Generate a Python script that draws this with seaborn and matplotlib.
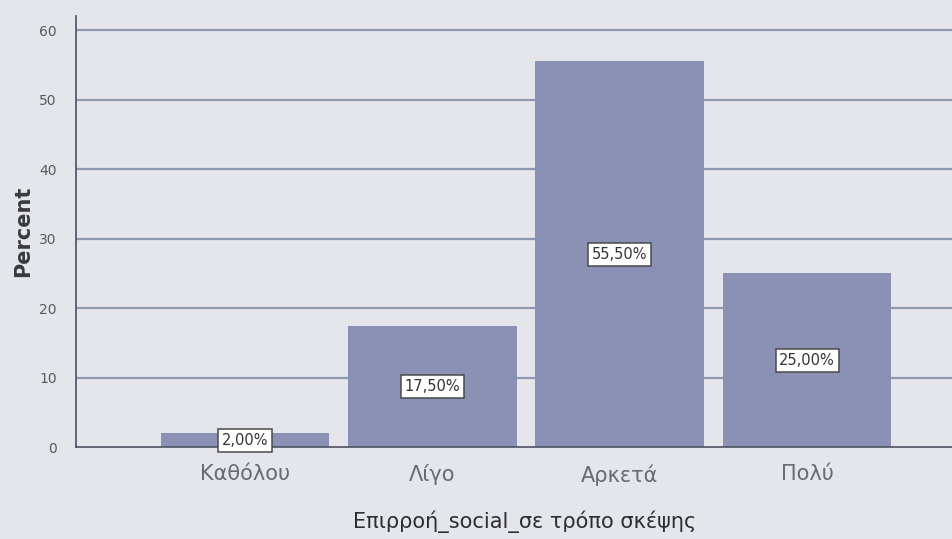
import matplotlib
matplotlib.use("Agg")
import matplotlib.pyplot as plt
import seaborn as sns
import pandas as pd

categories = ["Καθόλου", "Λίγο", "Αρκετά", "Πολύ"]
percent = [2.0, 17.5, 55.5, 25.0]
value_labels = ["2,00%", "17,50%", "55,50%", "25,00%"]
y_ticks = [0, 10, 20, 30, 40, 50, 60]

df = pd.DataFrame({"category": categories, "percent": percent})

sns.set_theme(style="white")
plt.rcParams["font.family"] = ["DejaVu Sans"]

bg = "#e4e6eb"
bar_color = "#8a91b5"
grid_color = "#8f98b3"

fig = plt.figure(figsize=(9.53, 5.39), dpi=100, facecolor=bg)
ax = fig.add_axes([0.08, 0.17, 0.94, 0.80])
ax.set_facecolor(bg)

for t in y_ticks[1:]:
    ax.axhline(t, color=grid_color, lw=1.6, zorder=0)

sns.barplot(data=df, x="category", y="percent", color=bar_color,
            saturation=1, width=0.9, ax=ax, zorder=2, edgecolor="none")

for i, (v, lab) in enumerate(zip(percent, value_labels)):
    ax.text(i, v / 2, lab, ha="center", va="center", fontsize=10.5,
            color="#333333", zorder=3,
            bbox=dict(boxstyle="square,pad=0.25", fc="white",
                      ec="#4a4a4a", lw=1.1))

ax.set_xlim(-0.9, 3.88)
ax.set_ylim(0, 62)
ax.set_yticks(y_ticks)
ax.tick_params(axis="y", labelsize=10, labelcolor="#5a5a5a", length=0, pad=14)
ax.tick_params(axis="x", labelsize=15, labelcolor="#6a6a72", length=0, pad=12)

for s in ["top", "right"]:
    ax.spines[s].set_visible(False)
ax.spines["left"].set_color("#4d5160")
ax.spines["bottom"].set_color("#4d5160")
ax.spines["left"].set_linewidth(1.2)
ax.spines["bottom"].set_linewidth(1.2)

ax.set_ylabel("Percent", fontsize=15, fontweight="bold", color="#3a3a3a", labelpad=4)
ax.set_xlabel("Επιρροή_social_σε τρόπο σκέψης", fontsize=15, color="#2e2e2e", labelpad=18)

fig.savefig("out.png", dpi=100, facecolor=bg)
